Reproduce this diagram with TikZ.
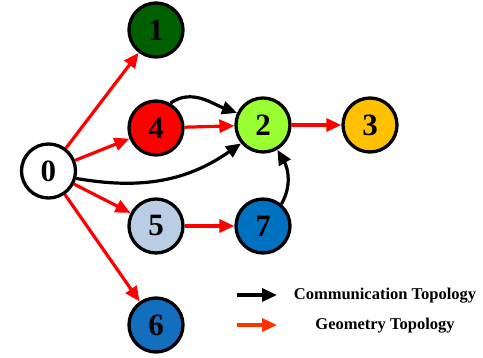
\documentclass[tikz,border=0pt]{standalone}
\usepackage{fontspec}
\setmainfont{Liberation Serif}
\usetikzlibrary{arrows.meta}
\definecolor{cgreen}{RGB}{0,96,0}
\definecolor{cred}{RGB}{255,0,0}
\definecolor{clime}{RGB}{153,255,51}
\definecolor{cgold}{RGB}{255,192,0}
\definecolor{cpale}{RGB}{185,205,229}
\definecolor{cblue}{RGB}{0,112,192}
\definecolor{cblue2}{RGB}{20,110,190}
\definecolor{legred}{RGB}{255,51,0}
\tikzset{
  vtx/.style={circle, draw=black, line width=3.3pt, minimum size=54pt, inner sep=0pt,
    font=\fontsize{31}{31}\selectfont\bfseries},
  tip/.style={-{Triangle[length=15pt,width=13pt]}},
  geo/.style={draw=cred, line width=3.2pt, tip},
  com/.style={draw=black, line width=3.2pt, tip},
  leg/.style={font=\fontsize{16.5}{16.5}\selectfont\bfseries, inner sep=0pt}
}
\begin{document}
\begin{tikzpicture}[x=1pt,y=-1pt]
\useasboundingbox (0,0) rectangle (483,358);
\node[vtx, fill=white] (n0) at (48.5,171) {0};
\node[vtx, fill=cgreen] (n1) at (156,30) {1};
\node[vtx, fill=cred] (n4) at (156,128) {4};
\node[vtx, fill=clime] (n2) at (263,125) {2};
\node[vtx, fill=cgold] (n3) at (370,125) {3};
\node[vtx, fill=cpale] (n5) at (156,226) {5};
\node[vtx, fill=cblue] (n7) at (263,226) {7};
\node[vtx, fill=cblue2] (n6) at (156,325) {6};
\draw[geo] (n0) -- (n1);
\draw[geo] (n0) -- (n4);
\draw[geo] (n0) -- (n5);
\draw[geo] (n0) -- (n6);
\draw[geo] (n4) -- (n2);
\draw[geo] (n2) -- (n3);
\draw[geo] (n5) -- (n7);
\draw[com] (n4.60) to[out=35,in=160] (n2.155);
\draw[com] (n0.-15) to[out=-10,in=-145] (n2.-140);
\draw[com] (n7.50) to[out=60,in=-60] (n2.-60);
\coordinate (la1) at (237,295);
\coordinate (lb1) at (277,295);
\coordinate (la2) at (237,325);
\coordinate (lb2) at (277,325);
\draw[com] (la1) -- (lb1);
\draw[draw=legred, line width=3.2pt, tip] (la2) -- (lb2);
\node[leg] (t1) at (385,296) {Communication Topology};
\node[leg] (t2) at (385,326) {Geometry Topology};
\end{tikzpicture}
\end{document}
